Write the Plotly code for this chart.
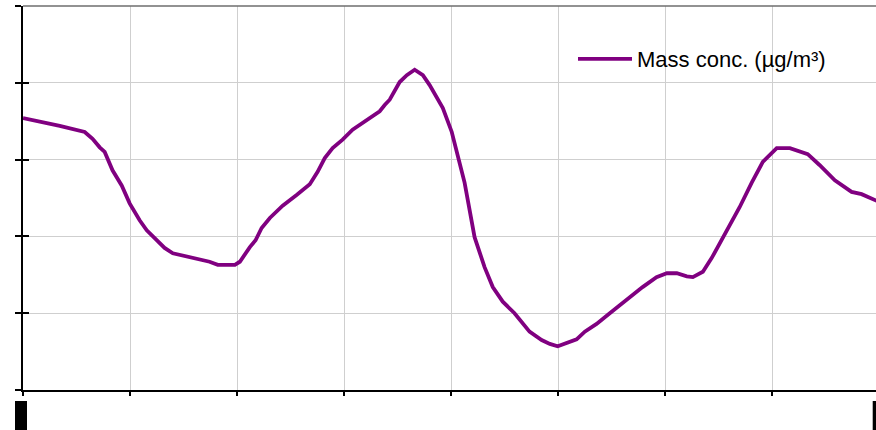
import plotly.graph_objects as go

# Time of day (hours) and particle mass concentration readings
hours = [0.00, 0.47, 1.03, 1.73, 1.95, 2.15, 2.29, 2.51, 2.77, 2.99,
         3.27, 3.47, 3.75, 3.97, 4.20, 4.59, 4.95, 5.23, 5.46, 5.94,
         6.08, 6.22, 6.36, 6.52, 6.69, 6.92, 7.28, 7.67, 8.04, 8.26,
         8.46, 8.68, 8.96, 9.24, 9.52, 10.00, 10.14, 10.28, 10.56, 10.76,
         10.98, 11.21, 11.40, 11.77, 12.02, 12.19, 12.38, 12.66, 12.94, 13.17,
         13.45, 13.78, 14.20, 14.54, 14.77, 14.99, 15.24, 15.52, 15.75, 16.08,
         16.45, 17.01, 17.37, 17.76, 18.05, 18.33, 18.61, 18.78, 19.06, 19.31,
         19.62, 20.09, 20.43, 20.74, 21.13, 21.50, 22.00, 22.33, 22.76, 23.23,
         23.51, 23.90, 24.00]
mass_conc = [35.4, 35.0, 34.4, 33.6, 32.7, 31.6, 31.0, 28.6, 26.6, 24.3,
             22.1, 20.8, 19.5, 18.5, 17.8, 17.4, 17.1, 16.7, 16.3, 16.3,
             16.7, 17.7, 18.6, 19.5, 21.1, 22.4, 24.0, 25.4, 26.8, 28.4,
             30.2, 31.5, 32.6, 33.9, 34.8, 36.3, 37.1, 37.8, 40.1, 41.0,
             41.7, 41.0, 39.7, 36.7, 33.6, 30.6, 27.0, 19.9, 16.0, 13.4,
             11.5, 10.0, 7.6, 6.5, 6.0, 5.7, 6.1, 6.6, 7.6, 8.6,
             10.0, 12.1, 13.4, 14.7, 15.2, 15.2, 14.8, 14.7, 15.4, 17.2,
             19.8, 23.8, 27.0, 29.7, 31.5, 31.5, 30.7, 29.3, 27.3, 25.8,
             25.5, 24.7, 24.5]
series_name = "Mass conc. (µg/m³)"

PURPLE = "#800080"
GRID = "#cfcfcf"

fig = go.Figure()
fig.add_trace(go.Scatter(
    x=hours, y=mass_conc, mode="lines", name=series_name,
    line=dict(color=PURPLE, width=3.8),
))
# empty helper trace so the inner-tick overlay axis is rendered
fig.add_trace(go.Scatter(x=[None], y=[None], yaxis="y2", showlegend=False,
                         hoverinfo="skip"))

fig.update_layout(
    width=876, height=430,
    margin=dict(l=23, r=0, t=6, b=40),
    paper_bgcolor="white", plot_bgcolor="white",
    font=dict(family="Liberation Sans, Arial, sans-serif", color="#000000"),
    showlegend=True,
    legend=dict(
        x=(573 - 23) / 853, y=(390 - 38) / 384, xanchor="left", yanchor="top",
        bgcolor="rgba(255,255,255,0)", font=dict(size=22),
        itemwidth=54,
    ),
    xaxis=dict(
        range=[0, 853 / 35.67], tick0=0, dtick=3,
        showticklabels=False, ticks="outside", ticklen=4, tickwidth=2,
        tickcolor="black", showline=True, linecolor="black", linewidth=2,
        showgrid=True, gridcolor=GRID, gridwidth=1, zeroline=False,
    ),
    yaxis=dict(
        range=[0, 50], tick0=0, dtick=10,
        showticklabels=False, ticks="outside", ticklen=6, tickwidth=2,
        tickcolor="black", showline=True, linecolor="black", linewidth=2,
        showgrid=True, gridcolor=GRID, gridwidth=1, zeroline=False,
    ),
    yaxis2=dict(
        overlaying="y", anchor="x", side="left", range=[0, 50], tick0=0,
        dtick=10, showticklabels=False, ticks="inside", ticklen=6,
        tickwidth=2, tickcolor="black", showgrid=False, showline=False,
        zeroline=False,
    ),
    shapes=[
        # frame line along the top of the plot area
        dict(type="line", xref="paper", yref="paper", x0=0, x1=1, y0=1, y1=1,
             line=dict(color="#6e6e6e", width=1.5)),
        # clipped end-label blocks below the time axis
        dict(type="rect", xref="paper", yref="paper",
             x0=(15 - 23) / 853, x1=(27 - 23) / 853,
             y0=-(401 - 390) / 384, y1=-(445 - 390) / 384,
             fillcolor="black", line=dict(width=0)),
        dict(type="rect", xref="paper", yref="paper",
             x0=(872.7 - 23) / 853, x1=(885 - 23) / 853,
             y0=-(401 - 390) / 384, y1=-(445 - 390) / 384,
             fillcolor="black", line=dict(width=0)),
    ],
)

fig.write_html("out.html")
